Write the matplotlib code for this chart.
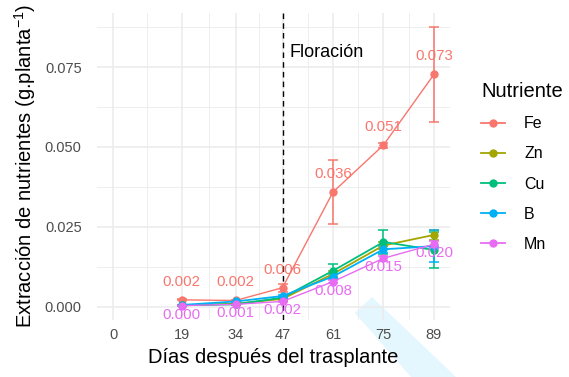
import numpy as np
import matplotlib
matplotlib.use("Agg")
import matplotlib.pyplot as plt
from matplotlib import patches
from matplotlib.lines import Line2D

#===Data===#
dias = [19, 34, 47, 61, 75, 89]
tick_dias = [0, 19, 34, 47, 61, 75, 89]
nutrientes = ["Fe", "Zn", "Cu", "B", "Mn"]
colores = ["#F8766D", "#A3A500", "#00BF7D", "#00B0F6", "#E76BF3"]

fe = [0.0022, 0.0020, 0.0060, 0.0359, 0.0506, 0.0727]
fe_err = [0.0002, 0.0001, 0.0012, 0.0101, 0.0008, 0.0148]
zn = [0.0005, 0.0010, 0.0025, 0.0103, 0.0192, 0.0225]
zn_err = [0.0001, 0.0001, 0.0003, 0.0008, 0.0010, 0.0015]
cu = [0.0005, 0.0008, 0.0029, 0.0113, 0.0203, 0.0178]
cu_err = [0.0001, 0.0001, 0.0003, 0.0022, 0.0038, 0.0056]
b = [0.0006, 0.0017, 0.0034, 0.0095, 0.0180, 0.0190]
b_err = [0.0001, 0.0002, 0.0004, 0.0008, 0.0010, 0.0050]
mn = [0.0004, 0.0008, 0.0017, 0.0079, 0.0152, 0.0196]
mn_err = [0.0001, 0.0001, 0.0002, 0.0004, 0.0008, 0.0010]

series = [fe, zn, cu, b, mn]
errores = [fe_err, zn_err, cu_err, b_err, mn_err]

floracion = 47

plt.rcParams['font.family'] = ['Liberation Sans', 'DejaVu Sans']
plt.rcParams['mathtext.fontset'] = 'custom'
plt.rcParams['mathtext.rm'] = 'Liberation Sans'
plt.rcParams['mathtext.it'] = 'Liberation Sans'

#===Figure===#
fig = plt.figure(figsize=(5.69, 3.77), dpi=100)
ax = fig.add_axes([97/569, 1-320/377, (450-97)/569, (320-13)/377])
ax.set_facecolor('none')

# watermark stripe
stripe = patches.Polygon([(355/569, 1-313/377), (372/569, 1-297/377),
                          (456/569, 0), (411/569, 0)],
                         closed=True, transform=fig.transFigure,
                         facecolor='#e4f7fe', edgecolor='none', zorder=-5)
fig.patches.append(stripe)

#===Series===#
for nombre, vals, err, col in zip(nutrientes, series, errores, colores):
    lw = 1.0 if nombre in ("Fe", "Mn") else 1.3
    ax.errorbar(dias, vals, yerr=err, color=col, lw=lw, capsize=3.5,
                elinewidth=1.1, capthick=1.1, marker='o', ms=5,
                label=nombre, zorder=3)

#===Labels===#
for x, v in zip(dias, fe):
    ax.annotate(f"{v:.3f}", (x, v), xytext=(0, 13), textcoords='offset points',
                ha='center', va='center', color=colores[0], fontsize=10.8, zorder=4)
for x, v in zip(dias, mn):
    ax.annotate(f"{v:.3f}", (x, v), xytext=(0, -6.5), textcoords='offset points',
                ha='center', va='center', color=colores[4], fontsize=10.8, zorder=4)

#===Flowering line===#
ax.axvline(floracion, color='black', ls=(0, (4, 3)), lw=1.0, zorder=2)
ax.text(floracion + 2.0, 0.0794, "Floración", fontsize=13, va='center', ha='left')

#===Axes===#
ax.set_xlim(-4.45, 93.45)
ax.set_ylim(-0.0041, 0.0919)
ax.set_xticks(tick_dias)
ax.set_xticks([(a + b_) / 2 for a, b_ in zip(tick_dias[:-1], tick_dias[1:])], minor=True)
ax.set_yticks([0, 0.025, 0.05, 0.075])
ax.set_yticks([0.0125, 0.0375, 0.0625, 0.0875], minor=True)
ax.set_yticklabels(["0.000", "0.025", "0.050", "0.075"])
ax.grid(which='major', color='#ebebeb', lw=1.1, zorder=0)
ax.grid(which='minor', color='#ebebeb', lw=0.6, zorder=0)
ax.set_axisbelow(True)
for s in ax.spines.values():
    s.set_visible(False)
ax.tick_params(which='both', length=0, labelsize=10.5, labelcolor='#4d4d4d')
ax.tick_params(axis='y', pad=11)
ax.tick_params(axis='x', pad=6)

ax.set_xlabel("Días después del trasplante", fontsize=14.5, labelpad=4)
ax.set_ylabel("Extracción de nutrientes (g.planta$^{-1}$)", fontsize=14.5, labelpad=5)

#===Legend===#
handles = [Line2D([0], [0], color=c, lw=1.3, marker='o', ms=5) for c in colores]
leg = ax.legend(handles, nutrientes, title="Nutriente", loc='upper left',
                bbox_to_anchor=(481/569, 1-82/377), bbox_transform=fig.transFigure,
                frameon=False, fontsize=11.5, title_fontsize=14.5,
                handlelength=1.5, handletextpad=1.2, labelspacing=0.95,
                alignment='left', borderaxespad=0, borderpad=0)

plt.savefig("out.png", dpi=100)
